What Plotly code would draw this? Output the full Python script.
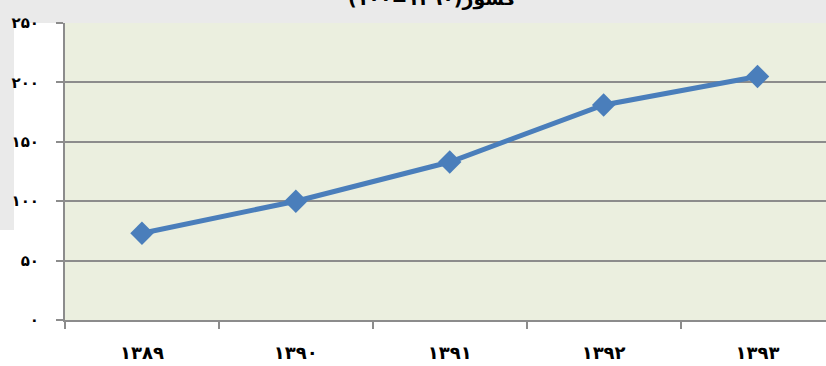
import plotly.graph_objects as go

# Index values by year (base year 1390 = 100)
years = ["۱۳۸۹", "۱۳۹۰", "۱۳۹۱", "۱۳۹۲", "۱۳۹۳"]
index_values = [73, 100, 133, 181, 205]
y_tick_vals = [0, 50, 100, 150, 200, 250]
y_tick_text = ["۰", "۵۰", "۱۰۰", "۱۵۰", "۲۰۰", "۲۵۰"]
title_text = "کشور(۱۳۹۰=۱۰۰)"

W, H = 826, 366
ML, MT, MB = 65, 23, 46

fig = go.Figure()
fig.add_trace(go.Scatter(
    x=years,
    y=index_values,
    mode="lines+markers",
    line=dict(color="#4A7EBB", width=5),
    marker=dict(symbol="diamond", size=18, color="#4A7EBB"),
    showlegend=False,
    cliponaxis=False,
))

x_font = dict(family="DejaVu Sans", size=18, color="#000000", weight="bold")
y_font = dict(family="DejaVu Sans", size=15, color="#000000", weight="bold")

fig.update_layout(
    width=W, height=H,
    margin=dict(l=ML, r=0, t=MT, b=MB),
    paper_bgcolor="#FFFFFF",
    plot_bgcolor="#EBEFDF",
    xaxis=dict(
        type="category",
        range=[-0.5, 4.445],
        tickson="boundaries",
        showgrid=False,
        zeroline=False,
        showline=True, linecolor="#8C8C8C", linewidth=2,
        ticks="outside", ticklen=7, tickcolor="#8C8C8C", tickwidth=1.5,
        tickfont=x_font,
        ticklabelstandoff=15,
        fixedrange=True,
    ),
    yaxis=dict(
        range=[0, 250],
        tickmode="array",
        tickvals=y_tick_vals,
        ticktext=y_tick_text,
        showgrid=True, gridcolor="#8C8C8C", gridwidth=1.8,
        zeroline=False,
        showline=True, linecolor="#8C8C8C", linewidth=2,
        ticks="outside", ticklen=7, tickcolor="#8C8C8C", tickwidth=1.5,
        tickfont=y_font,
        ticklabelstandoff=14,
        fixedrange=True,
    ),
    shapes=[
        # light grey panel behind the header band
        dict(type="rect", xref="paper", yref="paper",
             x0=-ML / (W - ML), x1=1.0, y0=1.0, y1=1 + MT / (H - MT - MB),
             fillcolor="#EAEAEA", line=dict(width=0), layer="below"),
        # grey strip down the left edge
        dict(type="rect", xref="paper", yref="paper",
             x0=-ML / (W - ML), x1=-(ML - 14) / (W - ML),
             y0=(320 - 230) / (H - MT - MB), y1=1.0,
             fillcolor="#EAEAEA", line=dict(width=0), layer="below"),
    ],
    annotations=[
        dict(text=title_text, xref="paper", yref="paper",
             x=(432 - ML) / (W - ML), y=1 + (MT + 2) / (H - MT - MB),
             xanchor="center", yanchor="middle", showarrow=False,
             font=dict(family="DejaVu Sans", size=19, color="#000000", weight="bold")),
    ],
)

fig.write_html("out.html")
